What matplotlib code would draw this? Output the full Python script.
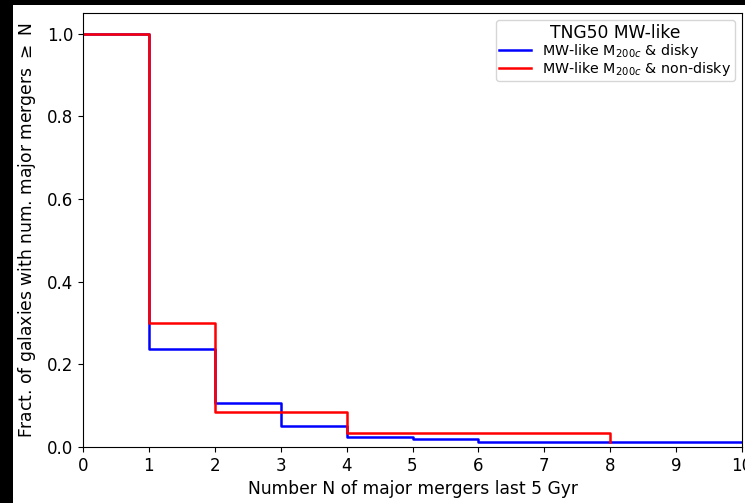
import matplotlib
matplotlib.use("Agg")
import matplotlib.pyplot as plt
from matplotlib.patches import Rectangle

# Data
n_blue = [0, 1, 2, 3, 4, 5, 6, 7, 8, 9, 10]
frac_blue = [1.0, 0.237, 0.106, 0.051, 0.025, 0.0186, 0.0129, 0.0129, 0.0129, 0.0129, 0.0129]
n_red = [0, 1, 2, 3, 4, 5, 6, 7, 8]
frac_red = [1.0, 0.300, 0.084, 0.084, 0.034, 0.034, 0.034, 0.034, 0.0129]
label_blue = r"MW-like M$_{200c}$ & disky"
label_red = r"MW-like M$_{200c}$ & non-disky"
legend_title = "TNG50 MW-like"
xlabel = "Number N of major mergers last 5 Gyr"
ylabel = r"Fract. of galaxies with num. major mergers $\geq$ N"

W, H = 745, 503
fig = plt.figure(figsize=(W / 100, H / 100), dpi=100, facecolor="black")
fig.patches.append(Rectangle((13 / W, 0), 1 - 13 / W, 1 - 5 / H, transform=fig.transFigure,
                             facecolor="white", edgecolor="none", zorder=-10))

ax = fig.add_axes([83 / W, 1 - 447 / H, (742 - 83) / W, (447 - 13) / H])
ax.set_zorder(5)
ax.step(n_blue, frac_blue, where="post", color="blue", lw=1.8, label=label_blue)
ax.step(n_red, frac_red, where="post", color="red", lw=1.8, label=label_red)

ax.set_xlim(0, 10)
ax.set_ylim(0, 1.05)
ax.set_xticks(range(0, 11))
ax.set_yticks([0.0, 0.2, 0.4, 0.6, 0.8, 1.0])
ax.tick_params(labelsize=12)
ax.set_xlabel(xlabel, fontsize=12.3)
ax.set_ylabel(ylabel, fontsize=12.3)
ax.yaxis.set_label_coords(-0.068, 0.5)
ax.xaxis.set_label_coords(0.5, -0.077)

leg = ax.legend(title=legend_title, loc="upper right", fontsize=10.3, title_fontsize=12.3,
                labelspacing=0.0, handlelength=2.2, borderpad=0.25, handletextpad=0.8,
                borderaxespad=0.5)
leg._legend_box.sep = 0

fig.savefig("out.png", dpi=100, facecolor=fig.get_facecolor())
